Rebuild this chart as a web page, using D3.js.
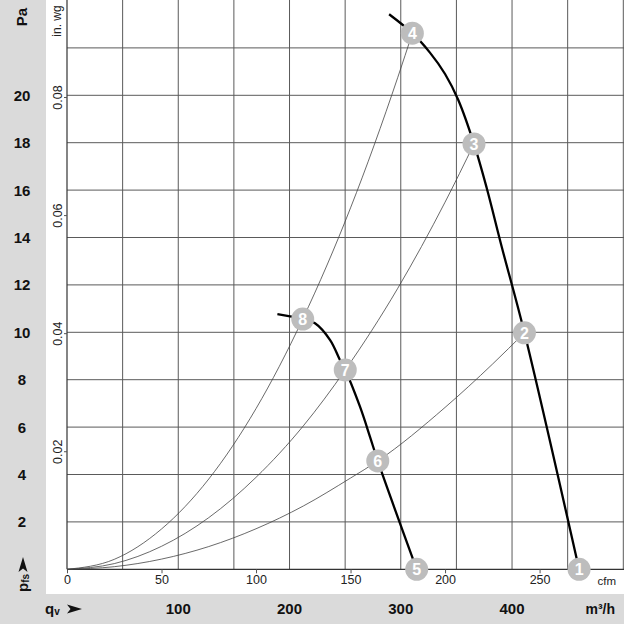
<!DOCTYPE html>
<html>
<head>
<meta charset="utf-8">
<script src="https://cdn.jsdelivr.net/npm/d3@7"></script>
<style>
  html, body { margin: 0; padding: 0; background: #fff; }
  svg { display: block; font-family: "Liberation Sans", Arial, sans-serif; }
</style>
</head>
<body>
<svg id="chart"></svg>
<script>
// ---- data ----
// fan curve, high speed (cfm, Pa)
const hiCfm = [170.4, 182.7, 192.0, 200.0, 207.0, 215.3, 222.0, 230.0, 242.0, 270.9];
const hiPa  = [23.42, 22.62, 21.80, 20.90, 19.80, 17.95, 16.10, 13.60, 9.98, 0];
// fan curve, low speed (cfm, Pa)
const loCfm = [111.3, 124.7, 131.2, 139.2, 144.4, 147.2, 155.0, 160.3, 164.4, 185.0];
const loPa  = [10.77, 10.56, 10.38, 9.67, 8.83, 8.41, 6.86, 5.59, 4.57, 0];
// system curves
const sysACfm = [0, 25, 50, 75, 100, 124.7, 150, 175, 182.7];
const sysAPa  = [0, 0.42, 1.70, 3.81, 6.78, 10.56, 15.25, 20.76, 22.62];
const sysBCfm = [0, 25, 50, 75, 100, 125, 147.2, 175, 200, 215.3];
const sysBPa  = [0, 0.24, 0.97, 2.18, 3.88, 6.05, 8.41, 11.86, 15.49, 17.95];
const sysCCfm = [0, 25, 50, 75, 100, 125, 150, 164.4, 200, 225, 242.0];
const sysCPa  = [0, 0.11, 0.43, 0.96, 1.71, 2.67, 3.85, 4.57, 6.83, 8.65, 9.98];
// operating points
const pointLabels = ["1", "2", "3", "4", "5", "6", "7", "8"];
const pointCfm = [270.9, 242.0, 215.3, 182.7, 185.0, 164.4, 147.2, 124.7];
const pointPa  = [0, 9.98, 17.95, 22.62, 0, 4.57, 8.41, 10.56];
// axes ticks
const paTicks = [2, 4, 6, 8, 10, 12, 14, 16, 18, 20];
const paGrid = [2, 4, 6, 8, 10, 12, 14, 16, 18, 20, 22];
const inwgTicks = [0.02, 0.04, 0.06, 0.08];
const cfmTicks = [0, 50, 100, 150, 200, 250];
const m3hTicks = [100, 200, 300, 400];
const m3hGrid = [50, 100, 150, 200, 250, 300, 350, 400, 450, 500];

// ---- layout ----
const W = 624, H = 624;
const x0 = 67, x1 = 623.3, y0 = 569.3, y1 = 0.5;
const bandLeft = 46, bandTop = 594;

const svg = d3.select('#chart').attr('width', W).attr('height', H);

// scales (m3/h and cfm share the same pixel range, as do Pa and in. wg)
const xM3h = d3.scaleLinear().domain([0, 500]).range([x0, x1]);
const xCfm = d3.scaleLinear().domain([0, 500 / 1.699]).range([x0, x1]);
const yPa = d3.scaleLinear().domain([0, 24]).range([y0, y1]);
const yIn = d3.scaleLinear().domain([0, 24 / 249.09]).range([y0, y1]);

// gray bands
svg.append('rect').attr('x', 0).attr('y', 0).attr('width', bandLeft).attr('height', bandTop)
  .attr('fill', '#dadada');
svg.append('rect').attr('x', 0).attr('y', bandTop).attr('width', W).attr('height', H - bandTop)
  .attr('fill', '#dadada');

// grid
const grid = svg.append('g').attr('stroke', '#5a5a5a').attr('stroke-width', 1);
grid.selectAll('.vg').data(m3hGrid).join('line')
  .attr('x1', d => xM3h(d)).attr('x2', d => xM3h(d))
  .attr('y1', 0).attr('y2', y0);
grid.selectAll('.hg').data(paGrid).join('line')
  .attr('x1', x0).attr('x2', W)
  .attr('y1', d => yPa(d)).attr('y2', d => yPa(d));

// axis lines
svg.append('line').attr('x1', x0).attr('x2', x0).attr('y1', 0).attr('y2', y0)
  .attr('stroke', '#333').attr('stroke-width', 1.2);
svg.append('line').attr('x1', x0).attr('x2', W).attr('y1', y0).attr('y2', y0)
  .attr('stroke', '#333').attr('stroke-width', 1.2);

// cfm axis
const cfmAxis = svg.append('g')
  .attr('transform', `translate(0,${y0})`)
  .call(d3.axisBottom(xCfm).tickValues(cfmTicks).tickSize(4).tickSizeOuter(0).tickPadding(2));
cfmAxis.select('.domain').remove();
cfmAxis.selectAll('.tick line').attr('stroke', '#555');
cfmAxis.selectAll('.tick text')
  .attr('font-family', '"Liberation Sans", Arial, sans-serif')
  .attr('font-size', 12.5).attr('fill', '#222');
svg.append('text').attr('x', 616).attr('y', 585).attr('text-anchor', 'end')
  .attr('font-size', 11.5).attr('fill', '#222').text('cfm');

// in. wg axis
const inAxis = svg.append('g')
  .attr('transform', `translate(${x0},0)`)
  .call(d3.axisLeft(yIn).tickValues(inwgTicks).tickSize(3).tickSizeOuter(0)
    .tickFormat(d3.format('.2f')));
inAxis.select('.domain').remove();
inAxis.selectAll('.tick line').attr('stroke', '#555');
inAxis.selectAll('.tick text')
  .attr('font-family', '"Liberation Sans", Arial, sans-serif')
  .attr('font-size', 12.5).attr('fill', '#222')
  .attr('x', 0).attr('dy', 0).attr('text-anchor', 'middle')
  .attr('transform', 'translate(-5,0) rotate(-90)');
svg.append('text').attr('transform', 'translate(61,21) rotate(-90)')
  .attr('text-anchor', 'middle').attr('font-size', 12).attr('fill', '#222').text('in. wg');

// Pa labels in left band
svg.selectAll('.pa').data(paTicks).join('text')
  .attr('x', 22).attr('y', d => yPa(d)).attr('dy', '0.36em')
  .attr('text-anchor', 'middle').attr('font-size', 15).attr('font-weight', 'bold')
  .attr('fill', '#111').text(d => d);
svg.append('text').attr('transform', 'translate(27,17) rotate(-90)')
  .attr('text-anchor', 'middle').attr('font-size', 15).attr('font-weight', 'bold')
  .attr('fill', '#111').text('Pa');

// arrowhead used next to pfs and qv
const arrowPath = 'M0,-4.5 L15,0 L0,4.5 L3.5,0 Z';
const pfs = svg.append('g').attr('transform', 'translate(28,592) rotate(-90)');
const pfsText = pfs.append('text').attr('x', 0).attr('y', 0)
  .attr('font-size', 15).attr('font-weight', 'bold').attr('fill', '#111');
pfsText.append('tspan').text('p');
pfsText.append('tspan').attr('font-size', 10).attr('dy', 1).text('fs');
pfs.append('path').attr('d', arrowPath).attr('transform', 'translate(20,-5)').attr('fill', '#111');

// bottom band
const qv = svg.append('g').attr('transform', 'translate(45,614)');
const qvText = qv.append('text').attr('font-size', 15).attr('font-weight', 'bold').attr('fill', '#111');
qvText.append('tspan').text('q');
qvText.append('tspan').attr('font-size', 10).attr('dy', 1).text('v');
qv.append('path').attr('d', arrowPath).attr('transform', 'translate(22,-5)').attr('fill', '#111');

svg.selectAll('.m3h').data(m3hTicks).join('text')
  .attr('x', d => xM3h(d)).attr('y', 614)
  .attr('text-anchor', 'middle').attr('font-size', 15).attr('font-weight', 'bold')
  .attr('fill', '#111').text(d => d);
svg.append('text').attr('x', 615).attr('y', 614).attr('text-anchor', 'end')
  .attr('font-size', 14).attr('font-weight', 'bold').attr('fill', '#111').text('m³/h');

// curves
const zip = (a, b) => a.map((v, i) => [v, b[i]]);
const sysLine = d3.line()
  .x(d => xCfm(d[0])).y(d => yPa(d[1]))
  .curve(d3.curveMonotoneX);
const fanLine = d3.line()
  .x(d => xCfm(d[0])).y(d => yPa(d[1]))
  .curve(d3.curveCatmullRom.alpha(0.5));

const sysCurves = [zip(sysACfm, sysAPa), zip(sysBCfm, sysBPa), zip(sysCCfm, sysCPa)];
svg.append('g').selectAll('path').data(sysCurves).join('path')
  .attr('d', sysLine).attr('fill', 'none').attr('stroke', '#444').attr('stroke-width', 0.8);

const fanCurves = [zip(hiCfm, hiPa), zip(loCfm, loPa)];
svg.append('g').selectAll('path').data(fanCurves).join('path')
  .attr('d', fanLine).attr('fill', 'none').attr('stroke', '#000').attr('stroke-width', 2.3);

// operating points
const pts = svg.append('g').selectAll('g').data(pointLabels).join('g')
  .attr('transform', (d, i) => `translate(${xCfm(pointCfm[i])},${yPa(pointPa[i])})`);
pts.append('circle').attr('r', 11.5).attr('fill', '#bdbdbd');
pts.append('text').attr('text-anchor', 'middle').attr('dy', '0.36em')
  .attr('font-size', 16).attr('font-weight', 'bold').attr('fill', '#fff').text(d => d);
</script>
</body>
</html>
